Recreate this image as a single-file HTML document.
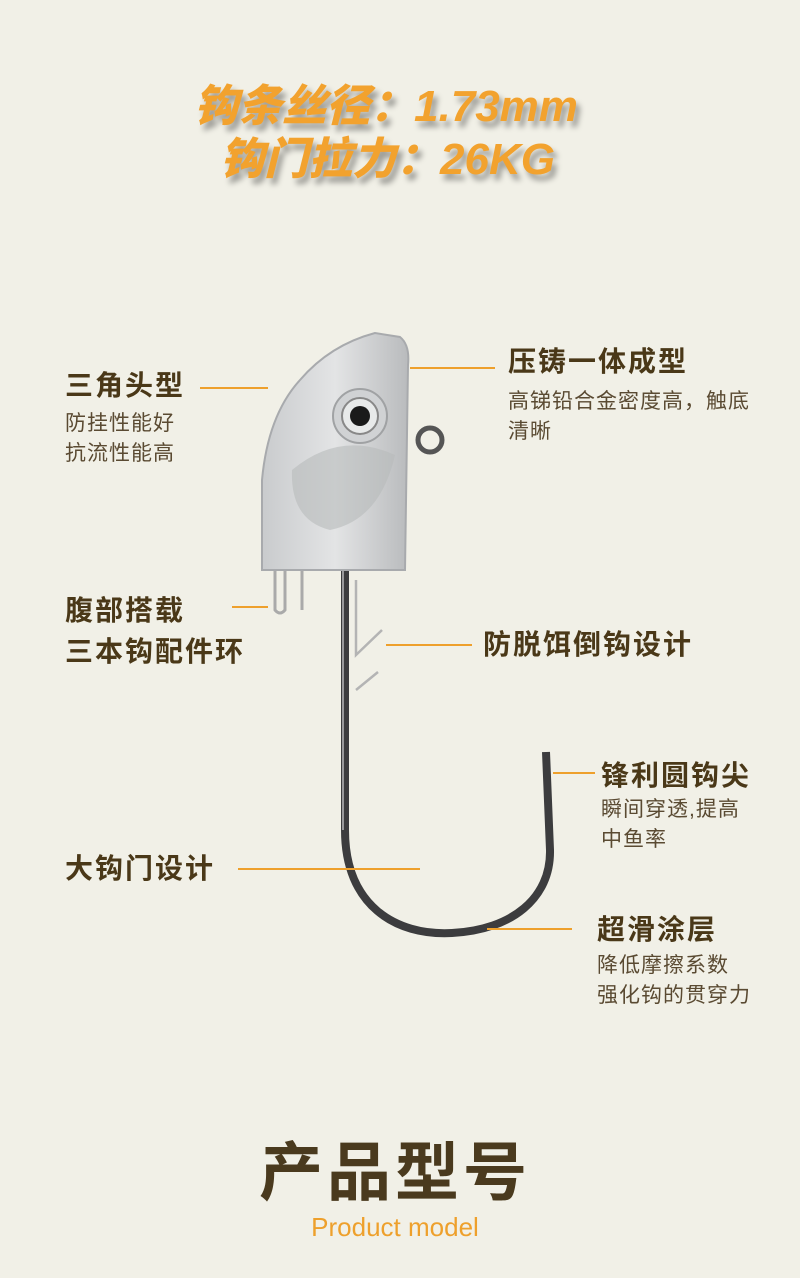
<!DOCTYPE html>
<html><head><meta charset="utf-8"><style>
body{margin:0;width:800px;height:1278px;background:#f1f0e7;position:relative;overflow:hidden;font-family:"Liberation Sans","Noto Sans CJK SC",sans-serif}
.t{position:absolute;white-space:nowrap}
.h{font-weight:bold;font-size:28px;letter-spacing:2px;color:#4a3818;line-height:34px}
.s{font-size:21px;letter-spacing:1px;color:#5a4a32;line-height:30px}
.ln{position:absolute;height:2px;background:#eea02c}
.title{position:absolute;left:0;width:770px;text-align:center;font-weight:900;font-style:italic;font-size:44px;color:#f2a22e;text-shadow:4px 6px 6px rgba(0,0,0,.35)}
</style></head><body>
<div class="title" style="top:70px;width:772px">钩条丝径：1.73mm</div>
<div class="title" style="top:123px;width:775px">钩门拉力：26KG</div>

<svg width="800" height="1278" style="position:absolute;left:0;top:0">
<defs><linearGradient id="g" x1="0" x2="1"><stop offset="0" stop-color="#c9cbcd"/><stop offset=".5" stop-color="#e3e4e5"/><stop offset="1" stop-color="#b9bbbd"/></linearGradient></defs>
<path d="M345,570 L345,830 C345,905 395,936 452,933 C512,930 551,898 550,850 L546,752" fill="none" stroke="#3c3c3e" stroke-width="8"/>
<path d="M343,570 L343,830" stroke="#9a9a9c" stroke-width="2"/>
<path d="M275,568 L275,610 Q280,616 285,610 L285,568 M302,568 L302,610" fill="none" stroke="#aaa" stroke-width="3"/>
<path d="M356,580 L356,655 L382,630 M356,690 L378,672" fill="none" stroke="#b4b4b4" stroke-width="2.5"/>
<circle cx="430" cy="440" r="12" fill="none" stroke="#555" stroke-width="5"/>
<path d="M262,570 L262,480 Q268,415 300,380 Q330,345 375,333 L400,337 Q410,345 408,365 L405,570 Z" fill="url(#g)" stroke="#a8aaad" stroke-width="2"/>
<path d="M292,470 Q340,430 395,455 Q380,520 330,530 Q290,520 292,470Z" fill="#b8babb" opacity=".6"/>
<circle cx="360" cy="416" r="27" fill="#d0d2d4" stroke="#a0a2a4" stroke-width="2"/>
<circle cx="360" cy="416" r="18" fill="#e8eaea" stroke="#888" stroke-width="2"/>
<circle cx="360" cy="416" r="10" fill="#1a1a1a"/>
</svg>

<div class="t h" style="left:65px;top:369px">三角头型</div>
<div class="ln" style="left:200px;top:387px;width:68px"></div>
<div class="t s" style="left:65px;top:409px">防挂性能好<br>抗流性能高</div>

<div class="t h" style="left:508px;top:345px">压铸一体成型</div>
<div class="ln" style="left:410px;top:367px;width:85px"></div>
<div class="t s" style="left:508px;top:387px">高锑铅合金密度高，触底<br>清晰</div>

<div class="t h" style="left:65px;top:590px;line-height:41px">腹部搭载<br>三本钩配件环</div>
<div class="ln" style="left:232px;top:606px;width:36px"></div>

<div class="t h" style="left:483px;top:628px">防脱饵倒钩设计</div>
<div class="ln" style="left:386px;top:644px;width:86px"></div>

<div class="t h" style="left:601px;top:759px">锋利圆钩尖</div>
<div class="ln" style="left:553px;top:772px;width:42px"></div>
<div class="t s" style="left:601px;top:795px">瞬间穿透,提高<br>中鱼率</div>

<div class="t h" style="left:65px;top:852px">大钩门设计</div>
<div class="ln" style="left:238px;top:868px;width:182px"></div>

<div class="t h" style="left:597px;top:913px">超滑涂层</div>
<div class="ln" style="left:487px;top:928px;width:85px"></div>
<div class="t s" style="left:597px;top:951px">降低摩擦系数<br>强化钩的贯穿力</div>

<div class="t" style="left:0;width:790px;text-align:center;top:1122px;font-size:64px;font-weight:bold;color:#4a3a1e;letter-spacing:4px">产品型号</div>
<div class="t" style="left:0;width:790px;text-align:center;top:1212px;font-size:26px;color:#eea02c">Product model</div>
</body></html>
